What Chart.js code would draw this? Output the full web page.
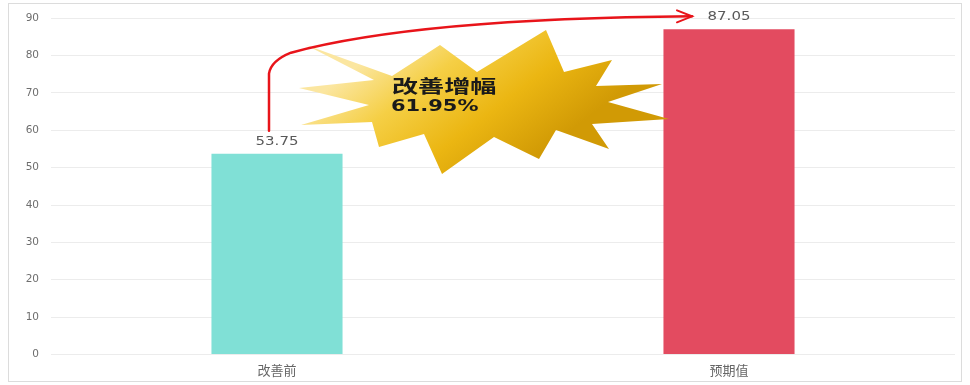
<!DOCTYPE html>
<html>
<head>
<meta charset="utf-8">
<script src="https://cdn.jsdelivr.net/npm/chart.js@4"></script>
<style>
  html, body { margin: 0; padding: 0; background: #fff; }
  #wrap { position: relative; width: 970px; height: 385px; }
</style>
</head>
<body>
<div id="wrap"><canvas id="gainChart" width="970" height="385"></canvas></div>
<script>
const categories = ["改善前", "预期值"];
const values = [53.75, 87.05];
const barColors = ["#80e0d6", "#e34b60"];
const yTicks = [0, 10, 20, 30, 40, 50, 60, 70, 80, 90];
const gainTitle = "改善增幅";
const gainText = "61.95%";

/* ===============================
   FRAME + VALUE LABELS + STAR
================================ */
function wideText(ctx, text, x, y, stretch) {
  ctx.save();
  ctx.translate(x, y);
  ctx.scale(stretch, 1);
  ctx.fillText(text, 0, 0);
  ctx.restore();
}

const framePlugin = {
  id: "frame",
  beforeDraw(chart) {
    const ctx = chart.ctx;
    ctx.save();
    ctx.fillStyle = "#fff";
    ctx.fillRect(0, 0, chart.width, chart.height);
    ctx.strokeStyle = "#dcdcdc";
    ctx.lineWidth = 1;
    ctx.strokeRect(8.5, 3.5, 953, 378);
    ctx.restore();
  }
};

const labelPlugin = {
  id: "valueLabels",
  afterDatasetsDraw(chart) {
    const ctx = chart.ctx;
    const bars = chart.getDatasetMeta(0).data;
    ctx.save();
    ctx.font = "13px 'DejaVu Sans'";
    ctx.fillStyle = "#595959";
    ctx.textAlign = "center";
    ctx.textBaseline = "bottom";
    bars.forEach((bar, i) => {
      wideText(ctx, values[i].toFixed(2), bar.x, bar.y - 6, 1.15);
    });
    ctx.restore();
  }
};

const starPlugin = {
  id: "gainStar",
  afterDraw(chart) {
    const ctx = chart.ctx;
    const bars = chart.getDatasetMeta(0).data;
    const y = chart.scales.y;
    const cx = (bars[0].x + bars[1].x) / 2 - 19;
    const cy = y.getPixelForValue(67.6);

    // star outline, offsets from centre
    const pts = [
      [-178, -57], [-92, -26], [-44, -57], [-7, -30], [62, -72], [80, -30],
      [128, -42], [112, -16], [178, -18], [124, 0], [185, 17], [108, 22],
      [125, 47], [72, 28], [55, 57], [10, 35], [-42, 72], [-60, 32],
      [-105, 45], [-112, 20], [-183, 23], [-115, 3], [-185, -14], [-110, -22]
    ];
    ctx.save();
    const g = ctx.createLinearGradient(cx - 80, cy - 72, cx + 30, cy + 72);
    g.addColorStop(0, "#fbe6a0");
    g.addColorStop(0.3, "#f5cf45");
    g.addColorStop(0.65, "#ebb612");
    g.addColorStop(1, "#d19a05");
    ctx.fillStyle = g;
    ctx.beginPath();
    pts.forEach(([dx, dy], i) => {
      if (i === 0) ctx.moveTo(cx + dx, cy + dy);
      else ctx.lineTo(cx + dx, cy + dy);
    });
    ctx.closePath();
    ctx.fill();

    ctx.fillStyle = "#1a1a1a";
    ctx.textAlign = "left";
    ctx.textBaseline = "middle";
    ctx.font = "bold 18px 'Noto Sans CJK SC'";
    wideText(ctx, gainTitle, cx - 92, cy - 16, 1.45);
    ctx.font = "bold 15px 'DejaVu Sans'";
    wideText(ctx, gainText, cx - 93, cy + 5, 1.4);

    // red arrow from first label to second label
    const x0 = bars[0].x - 8;
    const y0 = bars[0].y - 23;
    const x1 = bars[1].x - 37;
    const y1 = bars[1].y - 13;
    ctx.strokeStyle = "#e8141a";
    ctx.lineWidth = 2.5;
    ctx.lineCap = "round";
    ctx.beginPath();
    ctx.moveTo(x0, y0);
    ctx.lineTo(x0, y0 - 57);
    ctx.quadraticCurveTo(x0 + 2, y0 - 70, x0 + 22, y0 - 78);
    ctx.quadraticCurveTo(x0 + 150, y1 + 2, x1, y1);
    ctx.stroke();
    ctx.lineWidth = 2;
    ctx.beginPath();
    ctx.moveTo(x1 - 15, y1 - 6);
    ctx.lineTo(x1, y1);
    ctx.lineTo(x1 - 15, y1 + 6);
    ctx.stroke();
    ctx.restore();
  }
};

/* ===============================
   CHART
================================ */
const ctx = document.getElementById("gainChart");

new Chart(ctx, {
  type: "bar",
  data: {
    labels: categories,
    datasets: [{
      data: values,
      backgroundColor: barColors,
      categoryPercentage: 1,
      barPercentage: 0.29
    }]
  },
  options: {
    responsive: false,
    animation: false,
    layout: { padding: { left: 0, right: 15, top: 14, bottom: 0 } },
    plugins: {
      legend: { display: false },
      tooltip: { enabled: false }
    },
    scales: {
      x: {
        grid: { display: false, drawTicks: false },
        border: { display: false },
        ticks: {
          padding: 7.5,
          color: "#666",
          font: { family: "'Noto Sans CJK SC'", size: 13 }
        }
      },
      y: {
        min: 0,
        max: 90,
        afterFit(scale) { scale.width = 51; },
        afterBuildTicks(scale) { scale.ticks = yTicks.map(v => ({ value: v })); },
        grid: { color: "#ececec", drawTicks: false },
        border: { display: false },
        ticks: {
          padding: 12,
          color: "#6e6e6e",
          font: { family: "'DejaVu Sans'", size: 10.5 }
        }
      }
    }
  },
  plugins: [framePlugin, labelPlugin, starPlugin]
});
</script>
</body>
</html>
